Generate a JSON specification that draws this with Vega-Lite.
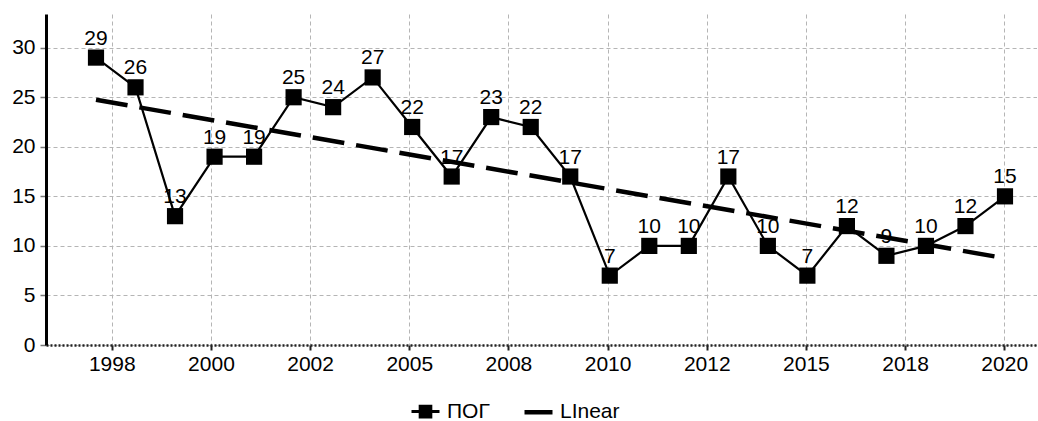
{
  "$schema": "https://vega.github.io/schema/vega-lite/v6.json",
  "autosize": {"type": "none"},
  "padding": {"left": 46, "top": 14, "right": 0, "bottom": 76},
  "width": 991,
  "height": 331,
  "background": "white",
  "data": {"values": [
    {"i": 0, "year": 1997, "v": 29},
    {"i": 1, "year": 1998, "v": 26},
    {"i": 2, "year": 1999, "v": 13},
    {"i": 3, "year": 2000, "v": 19},
    {"i": 4, "year": 2001, "v": 19},
    {"i": 5, "year": 2002, "v": 25},
    {"i": 6, "year": 2003, "v": 24},
    {"i": 7, "year": 2004, "v": 27},
    {"i": 8, "year": 2005, "v": 22},
    {"i": 9, "year": 2006, "v": 17},
    {"i": 10, "year": 2007, "v": 23},
    {"i": 11, "year": 2008, "v": 22},
    {"i": 12, "year": 2009, "v": 17},
    {"i": 13, "year": 2010, "v": 7},
    {"i": 14, "year": 2011, "v": 10},
    {"i": 15, "year": 2012, "v": 10},
    {"i": 16, "year": 2013, "v": 17},
    {"i": 17, "year": 2014, "v": 10},
    {"i": 18, "year": 2015, "v": 7},
    {"i": 19, "year": 2016, "v": 12},
    {"i": 20, "year": 2017, "v": 9},
    {"i": 21, "year": 2018, "v": 10},
    {"i": 22, "year": 2019, "v": 12},
    {"i": 23, "year": 2020, "v": 15}
  ]},
  "config": {
    "view": {"stroke": null},
    "font": "Liberation Sans",
    "axis": {"labelFont": "Liberation Sans", "labelFontSize": 21, "labelColor": "black", "gridColor": "#b5b5b5", "gridDash": [4, 3], "gridWidth": 1, "title": null}
  },
  "encoding": {
    "x": {"field": "i", "type": "quantitative",
      "scale": {"domain": [-1.265, 23.81], "nice": false, "zero": false},
      "axis": {"values": [0.4, 2.909, 5.418, 7.927, 10.436, 12.945, 15.454, 17.963, 20.472, 22.98],
        "labelExpr": "['1998','2000','2002','2005','2008','2010','2012','2015','2018','2020'][round((datum.value-0.4)/2.509)]",
        "domainColor": "#222", "domainDash": [2, 2], "domainWidth": 2.5,
        "tickColor": "#222", "tickSize": 5, "tickWidth": 2, "labelPadding": 3, "labelFlush": false}},
    "y": {"field": "v", "type": "quantitative",
      "scale": {"domain": [0, 33.4], "nice": false},
      "axis": {"values": [0, 5, 10, 15, 20, 25, 30], "domainColor": "black", "domainWidth": 3,
        "tickColor": "#777", "tickSize": 6, "tickWidth": 1.5, "labelPadding": 5}}
  },
  "layer": [
    {"mark": {"type": "line", "color": "black", "strokeWidth": 2.2},
      "encoding": {"color": {"datum": "ПОГ", "type": "nominal",
        "scale": {"domain": ["ПОГ", "LInear"], "range": ["black", "black"]},
        "legend": {"orient": "none", "legendX": 369, "legendY": 387, "direction": "horizontal", "title": null,
          "labelFont": "Liberation Sans", "labelFontSize": 21, "labelColor": "black", "labelOffset": 11,
          "columnPadding": 25, "symbolSize": 784,
          "encode": {"symbols": {"update": {
            "shape": {"signal": "datum.value === 'ПОГ' ? 'M-1,0H1M-0.38,-0.38H0.38V0.38H-0.38Z' : 'M-1,0H1'"},
            "fill": {"value": "black"}, "stroke": {"value": "black"},
            "strokeWidth": {"signal": "datum.value === 'ПОГ' ? 3 : 4.5"}}}}}}}},
    {"mark": {"type": "point", "shape": "square", "filled": true, "color": "black", "size": 262, "opacity": 1}},
    {"mark": {"type": "text", "fontSize": 21, "font": "Liberation Sans", "color": "black", "baseline": "alphabetic", "dy": -13},
      "encoding": {"text": {"field": "v", "type": "quantitative"}}},
    {"transform": [{"regression": "v", "on": "i"}],
      "mark": {"type": "line", "color": "black", "strokeWidth": 4.5, "strokeDash": [32, 12]},
      "encoding": {"color": {"datum": "LInear", "type": "nominal"}}}
  ]
}
